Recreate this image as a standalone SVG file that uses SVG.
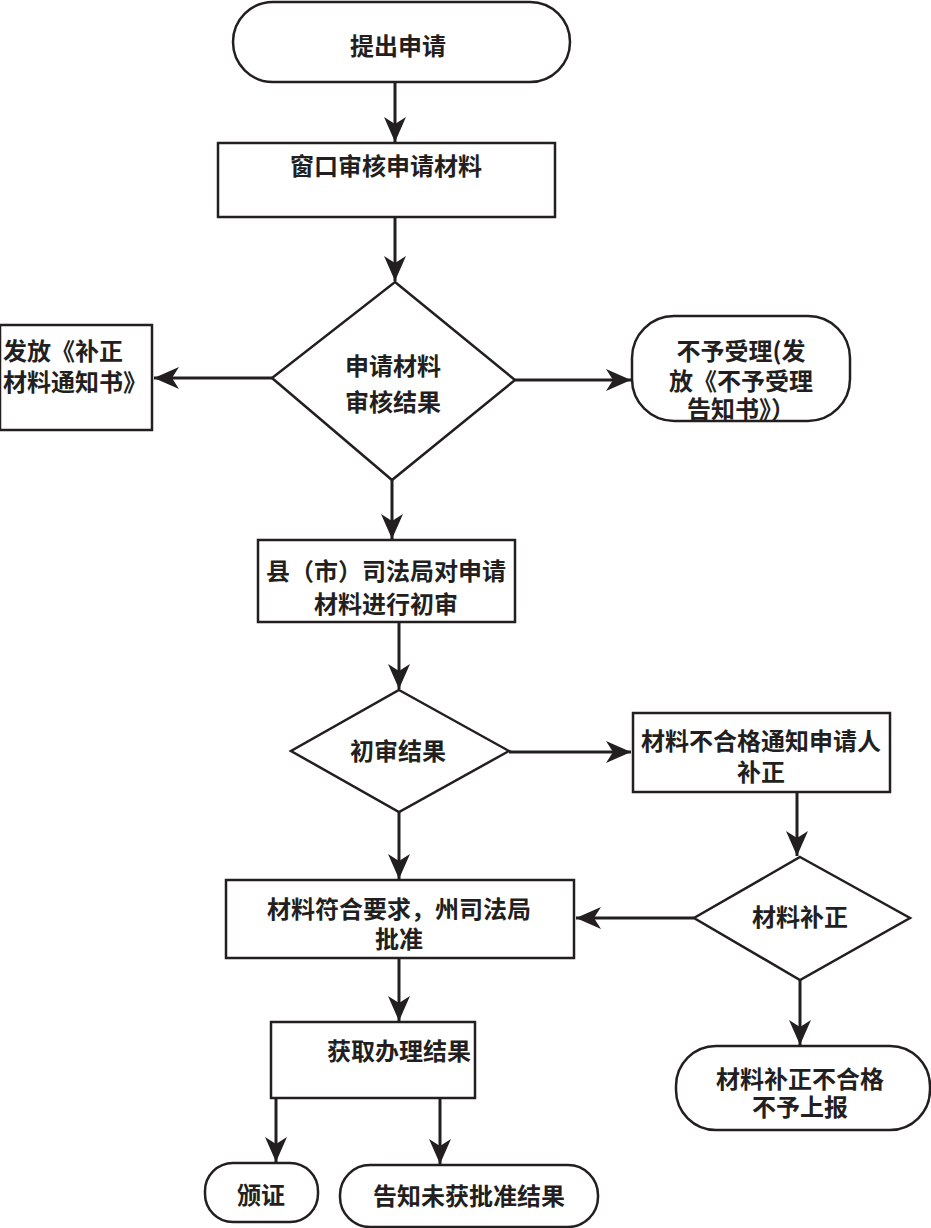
<svg xmlns="http://www.w3.org/2000/svg" width="931" height="1228" viewBox="0 0 931 1228">
<style>
.s{fill:#fff;stroke:#231f20;stroke-width:2.5}
.t{font-family:"Noto Sans CJK SC","Liberation Sans",sans-serif;font-size:24px;font-weight:bold;fill:#231f20;text-anchor:middle}
.c{fill:none;stroke:#231f20;stroke-width:3}
</style>
<defs>
<marker id="a" markerUnits="userSpaceOnUse" markerWidth="30" markerHeight="26" viewBox="-26 -13 28 26" refX="0" refY="0" orient="auto">
<path d="M0,0 L-25,-11 L-18,0 L-25,11 Z" fill="#231f20"/>
</marker>
</defs>
<rect width="931" height="1228" fill="#fff"/>
<g id="connectors">
<line class="c" x1="395" y1="82" x2="395" y2="142" marker-end="url(#a)"/>
<line class="c" x1="395" y1="217" x2="395" y2="281" marker-end="url(#a)"/>
<line class="c" x1="272" y1="378" x2="154" y2="378" marker-end="url(#a)"/>
<line class="c" x1="515" y1="380" x2="631" y2="380" marker-end="url(#a)"/>
<line class="c" x1="392" y1="480" x2="392" y2="539" marker-end="url(#a)"/>
<line class="c" x1="399" y1="622" x2="399" y2="689" marker-end="url(#a)"/>
<line class="c" x1="509" y1="752" x2="631" y2="752" marker-end="url(#a)"/>
<line class="c" x1="797" y1="792" x2="797" y2="856" marker-end="url(#a)"/>
<line class="c" x1="694" y1="918" x2="576" y2="918" marker-end="url(#a)"/>
<line class="c" x1="399" y1="812" x2="399" y2="879" marker-end="url(#a)"/>
<line class="c" x1="800" y1="980" x2="800" y2="1045" marker-end="url(#a)"/>
<line class="c" x1="399" y1="958" x2="399" y2="1021" marker-end="url(#a)"/>
<line class="c" x1="276" y1="1098" x2="276" y2="1162" marker-end="url(#a)"/>
<line class="c" x1="440" y1="1098" x2="440" y2="1164" marker-end="url(#a)"/>
</g>
<g id="n1"><rect class="s" x="233" y="2" width="337" height="80" rx="40"/><text class="t" x="398" y="55">提出申请</text></g>
<g id="n2"><rect class="s" x="218" y="143" width="337" height="74"/><text class="t" x="386" y="175">窗口审核申请材料</text></g>
<g id="n3"><polygon class="s" points="395,282 515,380 392,480 272,378"/><text class="t" x="393" y="375">申请材料</text><text class="t" x="393" y="411">审核结果</text></g>
<g id="n4"><rect class="s" x="0" y="325" width="152" height="105"/><text class="t" x="3" y="360" style="text-anchor:start">发放《补正</text><text class="t" x="3" y="391" style="text-anchor:start">材料通知书》</text></g>
<g id="n5"><rect class="s" x="632" y="316" width="218" height="105" rx="42"/><text class="t" x="741" y="360">不予受理(发</text><text class="t" x="741" y="390">放《不予受理</text><text class="t" x="741" y="418">告知书》）</text></g>
<g id="n6"><rect class="s" x="258" y="540" width="257" height="82"/><text class="t" x="386" y="580">县（市）司法局对申请</text><text class="t" x="386" y="613">材料进行初审</text></g>
<g id="n7"><polygon class="s" points="399,690 509,751 399,812 291,751"/><text class="t" x="398" y="760">初审结果</text></g>
<g id="n8"><rect class="s" x="633" y="713" width="257" height="79"/><text class="t" x="761" y="750">材料不合格通知申请人</text><text class="t" x="761" y="781">补正</text></g>
<g id="n9"><polygon class="s" points="800,857 910,918 800,980 694,918"/><text class="t" x="800" y="926">材料补正</text></g>
<g id="n10"><rect class="s" x="226" y="880" width="348" height="78"/><text class="t" x="399" y="918">材料符合要求，州司法局</text><text class="t" x="399" y="948">批准</text></g>
<g id="n11"><rect class="s" x="676" y="1046" width="254" height="84" rx="40"/><text class="t" x="800" y="1088">材料补正不合格</text><text class="t" x="800" y="1116">不予上报</text></g>
<g id="n12"><rect class="s" x="271" y="1022" width="204" height="76"/><text class="t" x="399" y="1060">获取办理结果</text></g>
<g id="n13"><rect class="s" x="205" y="1163" width="113" height="59" rx="28"/><text class="t" x="261" y="1204">颁证</text></g>
<g id="n14"><rect class="s" x="340" y="1165" width="258" height="62" rx="30"/><text class="t" x="469" y="1205">告知未获批准结果</text></g>
</svg>
